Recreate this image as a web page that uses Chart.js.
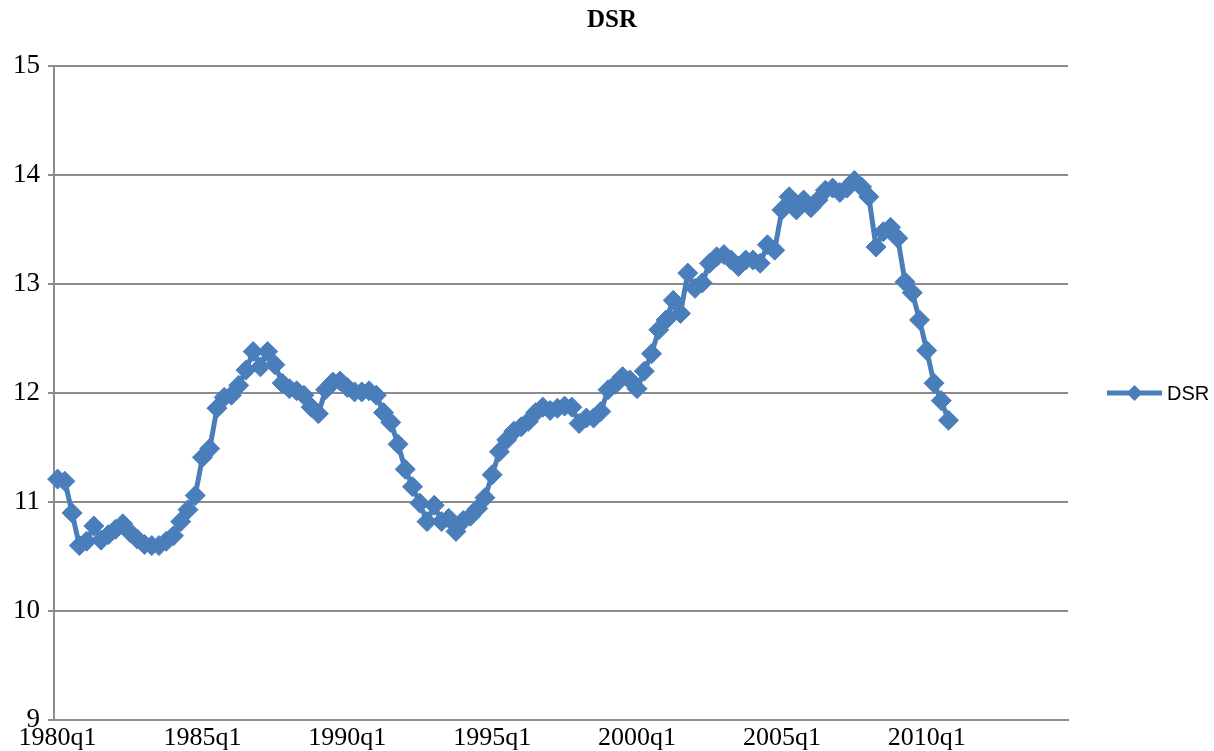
<!DOCTYPE html>
<html>
<head>
<meta charset="utf-8">
<script src="https://cdn.jsdelivr.net/npm/chart.js@4.4.1/dist/chart.umd.min.js"></script>
<style>
  html, body { margin: 0; padding: 0; background: #ffffff; }
  #c { display: block; }
</style>
</head>
<body>
<canvas id="c" width="1214" height="751"></canvas>
<script>
// ---- data ----
const firstYear = 1980;
const lastYear = 2014; // axis runs to 2014q4
const quarterLabels = [];
for (let y = firstYear; y <= lastYear; y++) {
  for (let q = 1; q <= 4; q++) quarterLabels.push(y + 'q' + q);
}
const labelEvery = 20;
const seriesName = 'DSR';
const chartTitle = 'DSR';
// DSR values, 1980q1 .. 2010q4
const dsr = [
  11.21, 11.19, 10.90, 10.60, 10.64, 10.78, 10.65, 10.70, 10.75, 10.80,
  10.72, 10.66, 10.61, 10.60, 10.60, 10.64, 10.69, 10.82, 10.93, 11.06,
  11.41, 11.49, 11.86, 11.96, 11.98, 12.07, 12.21, 12.38, 12.24, 12.38,
  12.26, 12.09, 12.04, 12.02, 11.98, 11.87, 11.81, 12.03, 12.10, 12.11,
  12.05, 12.01, 12.01, 12.02, 11.98, 11.82, 11.73, 11.53, 11.30, 11.14,
  10.99, 10.82, 10.97, 10.82, 10.85, 10.73, 10.83, 10.87, 10.94, 11.04,
  11.25, 11.46, 11.57, 11.65, 11.69, 11.74, 11.82, 11.87, 11.84, 11.86,
  11.88, 11.87, 11.72, 11.77, 11.77, 11.83, 12.03, 12.08, 12.15, 12.12,
  12.04, 12.20, 12.36, 12.58, 12.67, 12.85, 12.73, 13.10, 12.96, 13.01,
  13.19, 13.25, 13.27, 13.22, 13.16, 13.22, 13.22, 13.19, 13.36, 13.31,
  13.68, 13.80, 13.68, 13.77, 13.70, 13.77, 13.86, 13.88, 13.84, 13.88,
  13.95, 13.89, 13.80, 13.34, 13.48, 13.52, 13.42, 13.02, 12.92, 12.67,
  12.39, 12.09, 11.93, 11.75
];
const yMin = 9, yMax = 15, yStep = 1;

// ---- styles ----
const blue = '#4a7ebb';
const gridGray = '#8c8c8c';
const serif = "'Liberation Serif', 'Times New Roman', serif";
const sans = "'Liberation Sans', Arial, sans-serif";

const decorPlugin = {
  id: 'decor',
  afterDraw(chart) {
    const ctx = chart.ctx;
    const a = chart.chartArea;
    ctx.save();
    // title, centred on the canvas
    ctx.fillStyle = '#000';
    ctx.font = 'bold 25px ' + serif;
    ctx.textAlign = 'center';
    ctx.textBaseline = 'middle';
    ctx.fillText(chartTitle, chart.width / 2 + 5, 21);
    // legend on the right
    const cy = (a.top + a.bottom) / 2;
    const x0 = a.right + 39, x1 = a.right + 94;
    ctx.strokeStyle = blue;
    ctx.lineWidth = 5;
    ctx.beginPath();
    ctx.moveTo(x0, cy); ctx.lineTo(x1, cy); ctx.stroke();
    const mx = (x0 + x1) / 2, r = 8;
    ctx.fillStyle = blue;
    ctx.beginPath();
    ctx.moveTo(mx - r, cy); ctx.lineTo(mx, cy - r); ctx.lineTo(mx + r, cy); ctx.lineTo(mx, cy + r);
    ctx.closePath(); ctx.fill();
    ctx.fillStyle = '#000';
    ctx.font = '20px ' + sans;
    ctx.textAlign = 'left';
    ctx.fillText(seriesName, x1 + 5, cy + 1);
    ctx.restore();
  }
};

new Chart(document.getElementById('c'), {
  type: 'line',
  data: {
    labels: quarterLabels,
    datasets: [{
      label: seriesName,
      data: dsr,
      borderColor: blue,
      backgroundColor: blue,
      borderWidth: 5,
      tension: 0,
      pointStyle: 'rectRot',
      pointRadius: 10,
      pointBorderWidth: 1,
      pointBackgroundColor: blue,
      pointBorderColor: blue
    }]
  },
  options: {
    responsive: false,
    animation: false,
    devicePixelRatio: 1,
    layout: { padding: { left: 0, right: 146, top: 66, bottom: 0 } },
    plugins: {
      legend: { display: false },
      tooltip: { enabled: false },
      title: { display: false }
    },
    scales: {
      x: {
        type: 'category',
        offset: true,
        grid: { display: false, drawTicks: false, offset: true },
        border: { display: true, color: gridGray, width: 2 },
        ticks: {
          autoSkip: false,
          maxRotation: 0,
          minRotation: 0,
          padding: 3,
          color: '#000',
          font: { family: serif, size: 26 },
          callback: function (v, i) { return i % labelEvery === 0 ? quarterLabels[i] : null; }
        },
        afterFit(scale) { scale.height = 31; }
      },
      y: {
        min: yMin,
        max: yMax,
        grid: { color: gridGray, lineWidth: 2, drawTicks: true, tickLength: 6 },
        border: { display: true, color: gridGray, width: 2 },
        ticks: {
          stepSize: yStep,
          padding: 8,
          color: '#000',
          font: { family: serif, size: 27 }
        },
        afterFit(scale) { scale.width = 54; }
      }
    }
  },
  plugins: [decorPlugin]
});
</script>
</body>
</html>
